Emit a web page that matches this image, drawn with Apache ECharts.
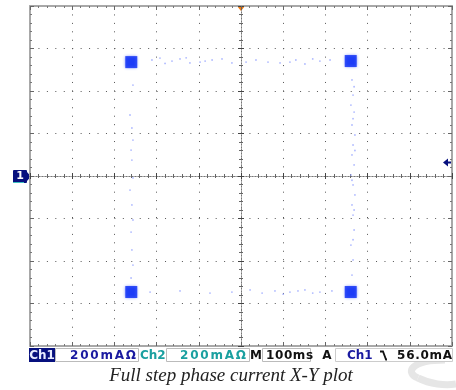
<!DOCTYPE html>
<html><head><meta charset="utf-8">
<script src="https://cdn.jsdelivr.net/npm/echarts@6/dist/echarts.min.js"></script>
<style>html,body{margin:0;padding:0;background:#fff}#c{width:456px;height:390px}</style>
</head><body><div id="c"></div>
<script>
// Axis ranges (mA), 200 mA/div
const xRange = [-1000, 1000];
const yRange = [-800, 800];
const divSize = 200;
// Dwell points (corners of the full-step square), mA
const dwellPoints = [[-520, 536], [520, 541], [-520, -546], [520, -546]];
// Faint transition trace points, mA
const traceTop = [[-422,546],[-384,555],[-327,541],[-289,551],[-242,532],[-194,536],[-137,546],[-90,551],[-43,532],[24,536],[71,546],[128,536],[185,532],[232,536],[303,527],[374,541],[422,546],[-360,530],[-260,556],[-170,541],[260,546],[340,551]];
const traceRight = [[526,452],[531,381],[521,334],[536,301],[526,240],[540,193],[531,146],[526,99],[536,52],[521,5],[531,-42],[540,-89],[526,-136],[531,-184],[536,-254],[521,-325],[531,-395],[526,-466],[536,420],[531,270],[540,120],[526,-20],[536,-160],[531,-300]];
const traceLeft = [[-512,428],[-526,287],[-517,226],[-512,169],[-521,122],[-517,75],[-512,-9],[-526,-66],[-517,-136],[-512,-207],[-521,-264],[-517,-348],[-512,-419],[-521,-480]];
const traceBottom = [[-431,-546],[-289,-541],[-147,-551],[-43,-546],[43,-536],[100,-551],[161,-541],[232,-546],[303,-536],[374,-546],[431,-541],[200,-556],[270,-541],[340,-551]];
// Status bar texts
const statusTexts = {ch1:'Ch1', ch1Scale:'200mA\u03A9', ch2:'Ch2', ch2Scale:'200mA\u03A9', m:'M', time:'100ms', a:'A', trigCh:'Ch1', trigLevel:'56.0mA'};
const caption = 'Full step phase current X-Y plot';

const chart = echarts.init(document.getElementById('c'));
const dotted = {color: '#555', width: 1, type: [1, 7.44]};
function edgeAxis(dim, pos, extra) {
  const r = dim === 'x' ? xRange : yRange;
  return Object.assign({
    type: 'value', min: r[0], max: r[1], interval: divSize, position: pos,
    axisLine: {show: true, onZero: false, lineStyle: {color: '#a8a8a8', width: 2}},
    axisTick: {show: true, inside: true, length: 4, lineStyle: {color: '#666'}},
    minorTick: {show: true, splitNumber: 5, length: 2, lineStyle: {color: '#777'}},
    axisLabel: {show: false}, splitLine: {show: false}
  }, extra || {});
}
function centerAxis(dim, pos, inside) {
  const r = dim === 'x' ? xRange : yRange;
  return {
    type: 'value', min: r[0], max: r[1], interval: divSize, position: pos,
    axisLine: {show: true, onZero: true, lineStyle: {color: '#777', width: 1, type: [1, 2]}},
    axisTick: {show: true, inside: inside, length: 3, lineStyle: {color: '#444'}},
    minorTick: {show: true, splitNumber: 5, length: 2, lineStyle: {color: '#666'}},
    axisLabel: {show: false}, splitLine: {show: false}
  };
}
// letter-spaced text helper (graphic elements, one per glyph)
const mctx = document.createElement('canvas').getContext('2d');
function spacedText(str, x, y, font, fill, spacing, align) {
  mctx.font = font;
  const ws = Array.from(str).map(ch => mctx.measureText(ch).width);
  const total = ws.reduce((a, b) => a + b, 0) + spacing * (ws.length - 1);
  let cx = align === 'right' ? x - total : align === 'center' ? x - total / 2 : x;
  return Array.from(str).map((ch, i) => {
    const el = {type: 'text', x: cx, y: y, style: {text: ch, fill: fill, font: font, align: 'left', verticalAlign: 'middle'}};
    cx += ws[i] + spacing;
    return el;
  });
}
const gL = 30, gR = 452, gT = 6, gB = 346;
const sf = 'bold 12px "DejaVu Sans"';
const sy = 355.5;
chart.setOption({
  backgroundColor: '#fff',
  animation: false,
  grid: {left: gL, right: 456 - gR, top: gT, bottom: 390 - gB, show: false},
  xAxis: [
    edgeAxis('x', 'bottom', {splitLine: {show: true, lineStyle: dotted}}),
    edgeAxis('x', 'top'),
    centerAxis('x', 'bottom', true),
    centerAxis('x', 'bottom', false)
  ],
  yAxis: [
    edgeAxis('y', 'left', {splitLine: {show: true, lineStyle: dotted}}),
    edgeAxis('y', 'right'),
    centerAxis('y', 'left', true),
    centerAxis('y', 'left', false)
  ],
  series: [
    {type: 'scatter', data: traceTop.concat(traceRight, traceLeft, traceBottom), symbol: 'circle', symbolSize: 1.8, itemStyle: {color: '#9aa8ff'}, silent: true},
    {type: 'scatter', data: dwellPoints, symbol: 'rect', symbolSize: 12, itemStyle: {color: '#0a2cf5', shadowBlur: 3, shadowColor: 'rgba(40,70,255,0.9)'}, silent: true}
  ],
  graphic: [
    // channel 1 ground marker
    {type: 'rect', shape: {x: 13, y: 170, width: 14, height: 13, r: 1}, style: {fill: '#07107e'}},
    {type: 'text', x: 20, y: 176.5, style: {text: '1', fill: '#fff', font: 'bold 11px "DejaVu Sans"', align: 'center', verticalAlign: 'middle'}},
    {type: 'polygon', shape: {points: [[27, 172], [31, 176.5], [27, 181]]}, style: {fill: '#07107e'}},
    {type: 'rect', shape: {x: 13, y: 182, width: 11, height: 1}, style: {fill: '#3fc0c0'}},
    // trigger position marker (top)
    {type: 'polygon', shape: {points: [[237, 6], [245, 6], [241, 11]]}, style: {fill: '#f07a10'}},
    // trigger level marker (right)
    {type: 'polygon', shape: {points: [[443, 162.5], [448, 158.5], [448, 166.5]]}, style: {fill: '#07107e'}},
    {type: 'rect', shape: {x: 446, y: 161.5, width: 6, height: 2}, style: {fill: '#07107e'}},
    // status bar
    {type: 'rect', shape: {x: 29, y: 348, width: 26, height: 14}, style: {fill: '#07107e'}},
    {type: 'text', x: 42, y: sy, style: {text: statusTexts.ch1, fill: '#e8ecff', font: 'bold 12px "DejaVu Sans"', align: 'center', verticalAlign: 'middle'}},
    {type: 'rect', shape: {x: 55.5, y: 348.5, width: 83, height: 13}, style: {fill: '#fff', stroke: '#bbb', lineWidth: 1}},
    ...spacedText(statusTexts.ch1Scale, 70, sy, sf, '#1a1aa0', 1.8, 'left'),
    ...spacedText(statusTexts.ch2, 140, sy, sf, '#1aa0a0', 0, 'left'),
    {type: 'rect', shape: {x: 166.5, y: 348.5, width: 83, height: 13}, style: {fill: '#fff', stroke: '#bbb', lineWidth: 1}},
    ...spacedText(statusTexts.ch2Scale, 180, sy, sf, '#1aa0a0', 1.8, 'left'),
    {type: 'text', x: 256, y: sy, style: {text: statusTexts.m, fill: '#111', font: sf, align: 'center', verticalAlign: 'middle'}},
    {type: 'rect', shape: {x: 262.5, y: 348.5, width: 48, height: 13}, style: {fill: '#fff', stroke: '#bbb', lineWidth: 1}},
    ...spacedText(statusTexts.time, 266, sy, sf, '#111', 0.6, 'left'),
    {type: 'text', x: 327, y: sy, style: {text: statusTexts.a, fill: '#111', font: sf, align: 'center', verticalAlign: 'middle'}},
    {type: 'rect', shape: {x: 335.5, y: 348.5, width: 117, height: 13}, style: {fill: '#fff', stroke: '#ccc', lineWidth: 1}},
    ...spacedText(statusTexts.trigCh, 347, sy, sf, '#1a1aa0', 0, 'left'),
    {type: 'polyline', shape: {points: [[380, 351.5], [383, 351.5], [386, 359.5], [387, 359.5]]}, style: {stroke: '#111', lineWidth: 1.8, fill: null}},
    ...spacedText(statusTexts.trigLevel, 452, sy, sf, '#111', 0.7, 'right'),
    // caption
    {type: 'text', x: 231, y: 376, style: {text: caption, fill: '#222', font: 'italic 19px "Liberation Serif"', align: 'center', verticalAlign: 'middle'}},
    // faint logo swoosh
    {type: 'bezierCurve', shape: {x1: 445, y1: 360, x2: 418, y2: 378, cpx1: 410, cpy1: 360, cpx2: 405, cpy2: 373}, style: {stroke: '#e6e6e6', lineWidth: 7, fill: null}, z: -1},
    {type: 'bezierCurve', shape: {x1: 418, y1: 378, x2: 456, y2: 384, cpx1: 430, cpy1: 384, cpx2: 445, cpy2: 386}, style: {stroke: '#e6e6e6', lineWidth: 7, fill: null}, z: -1}
  ]
});
</script></body></html>
